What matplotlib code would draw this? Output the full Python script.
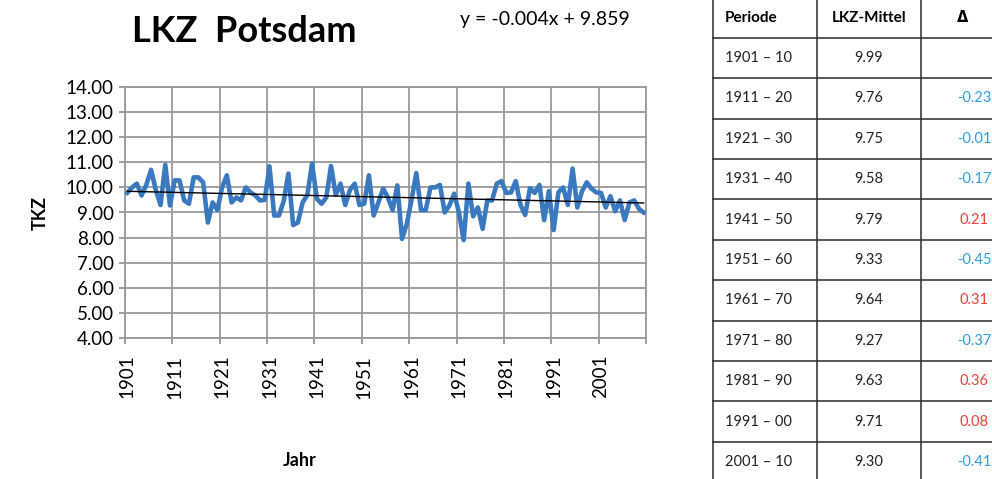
import numpy as np
import matplotlib
matplotlib.use("Agg")
import matplotlib.pyplot as plt
from matplotlib.lines import Line2D

plt.rcParams['font.family'] = ['Lato', 'DejaVu Sans']

# ---------------- data ----------------
years = list(range(1901, 2011))
tkz = [9.79, 10.0, 10.15, 9.68, 10.1, 10.7, 9.9, 9.3, 10.9, 9.28,
       10.28, 10.28, 9.48, 9.35, 10.4, 10.4, 10.2, 8.6, 9.4, 9.1,
       10.0, 10.48, 9.4, 9.6, 9.48, 10.0, 9.8, 9.68, 9.48, 9.5,
       10.84, 8.88, 8.88, 9.45, 10.55, 8.5, 8.6, 9.4, 9.7, 10.95,
       9.55, 9.35, 9.6, 10.85, 9.7, 10.15, 9.3, 9.9, 10.15, 9.3,
       9.35, 10.48, 8.88, 9.4, 9.95, 9.6, 9.1, 10.08, 7.95, 8.55,
       9.5, 10.57, 9.1, 9.1, 10.0, 10.0, 10.1, 9.0, 9.28, 9.75,
       9.0, 7.9, 10.15, 8.85, 9.2, 8.35, 9.48, 9.48, 10.15, 10.25,
       9.78, 9.8, 10.25, 9.3, 8.9, 9.97, 9.78, 10.1, 8.7, 9.85,
       8.3, 9.8, 10.0, 9.3, 10.75, 9.2, 9.85, 10.2, 9.95, 9.8,
       9.78, 9.2, 9.65, 9.05, 9.48, 8.7, 9.4, 9.48, 9.15, 9.0]
tick_years = [1901, 1911, 1921, 1931, 1941, 1951, 1961, 1971, 1981, 1991, 2001]
y_ticks = [4, 5, 6, 7, 8, 9, 10, 11, 12, 13, 14]
trend_label = "y = -0.004x + 9.859"

periods = ["1901 – 10", "1911 – 20", "1921 – 30", "1931 – 40", "1941 – 50",
           "1951 – 60", "1961 – 70", "1971 – 80", "1981 – 90", "1991 – 00",
           "2001 – 10"]
means = ["9.99", "9.76", "9.75", "9.58", "9.79", "9.33", "9.64", "9.27",
         "9.63", "9.71", "9.30"]
deltas = ["", "-0.23", "-0.01", "-0.17", "0.21", "-0.45", "0.31", "-0.37",
          "0.36", "0.08", "-0.41"]
headers = ["Periode", "LKZ-Mittel", "Δ"]

# ---------------- figure ----------------
W, H = 992, 479
fig = plt.figure(figsize=(W / 100, H / 100), dpi=100)
fig.patch.set_facecolor("white")

ax = fig.add_axes([125 / W, 1 - 338 / H, (646 - 125) / W, (338 - 87) / H])
x = np.arange(len(years))
ax.plot(x, tkz, color="#3a79bf", lw=3.3, solid_joinstyle="round", zorder=3)

coef = np.polyfit(x + 1, tkz, 1)
ax.plot(x, np.polyval(coef, x + 1), color="black", lw=1.0, zorder=4)

ax.set_xlim(-0.5, len(years) - 0.5)
ax.set_ylim(4, 14)
ax.set_yticks(y_ticks)
ax.set_yticklabels([f"{v:.2f}" for v in y_ticks], fontsize=13.5)
ax.set_xticks([years.index(t) for t in tick_years])
ax.set_xticklabels([str(t) for t in tick_years], rotation=90, fontsize=13.5)
ax.set_xticks(np.arange(-0.5, len(years), 10), minor=True)
ax.tick_params(axis="x", which="major", length=0, pad=12)
ax.tick_params(axis="x", which="minor", length=4, color="#8c8c8c", width=1.2)
ax.tick_params(axis="y", length=4, color="#8c8c8c", width=1.2, pad=4)
ax.grid(True, axis="y", which="major", color="#9a9a9a", lw=1.3)
ax.grid(True, axis="x", which="minor", color="#9a9a9a", lw=1.3)
ax.grid(False, axis="x", which="major")
for s in ax.spines.values():
    s.set_color("#9a9a9a")
    s.set_linewidth(1.3)
ax.set_axisbelow(True)

fig.text(244 / W, 1 - 32 / H, "LKZ  Potsdam", fontsize=26, fontweight="bold",
         ha="center", va="center")
fig.text(545 / W, 1 - 20 / H, trend_label, fontsize=14, ha="center", va="center")
fig.text(40 / W, 1 - 213 / H, "TKZ", fontsize=13, fontweight="bold",
         rotation=90, ha="center", va="center")
fig.text(300 / W, 1 - 461 / H, "Jahr", fontsize=13, fontweight="bold",
         ha="center", va="center")

# ---------------- table ----------------
col_x = [712.7, 816.7, 920.7, 1025]
head_bottom = 37.7
row_h = 40.4
line_kw = dict(color="#2a2a2a", lw=1.1, transform=fig.transFigure)
for cx in col_x[:3]:
    fig.add_artist(Line2D([cx / W, cx / W], [0, 1], **line_kw))
for k in range(len(periods) + 1):
    yy = head_bottom + row_h * k
    fig.add_artist(Line2D([col_x[0] / W, 1], [1 - yy / H, 1 - yy / H], **line_kw))

fs = 10.5
fig.text(725 / W, 1 - 18 / H, headers[0], fontsize=11, fontweight="bold",
         ha="left", va="center")
fig.text(869 / W, 1 - 18 / H, headers[1], fontsize=11, fontweight="bold",
         ha="center", va="center")
fig.text(963 / W, 1 - 18 / H, headers[2], fontsize=10.5, fontweight="bold",
         ha="center", va="center", family=['DejaVu Sans'])
for k, (p, m, d) in enumerate(zip(periods, means, deltas)):
    yc = 1 - (head_bottom + row_h * (k + 0.5)) / H
    fig.text(725 / W, yc, p, fontsize=fs, ha="left", va="center", color="#222222")
    fig.text(869 / W, yc, m, fontsize=fs, ha="center", va="center", color="#222222")
    if d:
        c = "#2e9fe0" if d.startswith("-") else "#f0403a"
        fig.text(974 / W, yc, d, fontsize=fs, ha="center", va="center", color=c)

fig.savefig("out.png", dpi=100)
